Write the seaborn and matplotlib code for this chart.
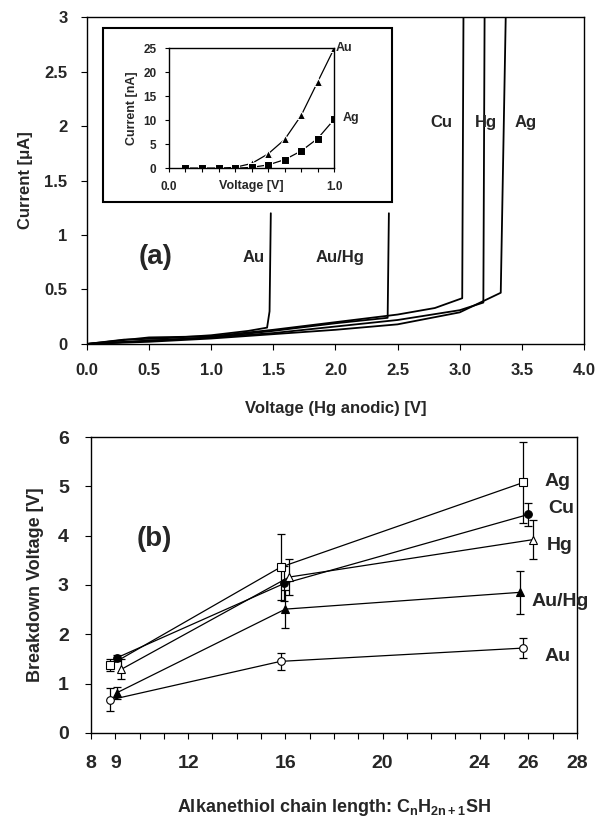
import matplotlib
matplotlib.use("Agg")
import matplotlib.pyplot as plt
import seaborn as sns
import pandas as pd
from matplotlib.patches import Rectangle

# ---- panel (a): I-V sweeps up to breakdown ----
au_v = [0, 0.3, 0.6, 1.0, 1.3, 1.45, 1.47, 1.48]
au_i = [0, 0.04, 0.05, 0.08, 0.12, 0.15, 0.3, 1.2]
auhg_v = [0, 0.5, 1.0, 1.5, 2.0, 2.42, 2.43]
auhg_i = [0, 0.03, 0.06, 0.12, 0.19, 0.24, 1.2]
cu_v = [0, 0.5, 1.0, 1.5, 2.0, 2.5, 2.8, 3.02, 3.03]
cu_i = [0, 0.06, 0.07, 0.13, 0.2, 0.27, 0.33, 0.42, 3.0]
hg_v = [0, 0.5, 1.0, 1.5, 2.0, 2.5, 3.0, 3.19, 3.2]
hg_i = [0, 0.03, 0.06, 0.1, 0.16, 0.22, 0.31, 0.38, 3.0]
ag_v = [0, 0.5, 1.0, 1.5, 2.0, 2.5, 3.0, 3.33, 3.37]
ag_i = [0, 0.02, 0.05, 0.09, 0.13, 0.18, 0.29, 0.47, 3.0]

# inset: low-bias current (nA)
inset_v = [0.1, 0.2, 0.3, 0.4, 0.5, 0.6, 0.7, 0.8, 0.9, 1.0]
inset_au = [0, 0, 0, 0.2, 1.0, 3.0, 6.0, 11.0, 18.0, 25.0]
inset_ag = [0, 0, 0, 0, 0.2, 0.7, 1.8, 3.6, 6.2, 10.2]

# ---- panel (b): breakdown voltage vs chain length ----
metals = ["Ag", "Cu", "Hg", "Au/Hg", "Au"]
chain_x = {
    "Ag": [8.8, 15.8, 25.8],
    "Cu": [9.05, 15.95, 26.0],
    "Hg": [9.25, 16.15, 26.2],
    "Au/Hg": [9.05, 16.0, 25.65],
    "Au": [8.8, 15.8, 25.8],
}
vbd = {
    "Ag": [1.38, 3.36, 5.08],
    "Cu": [1.52, 3.03, 4.43],
    "Hg": [1.29, 3.16, 3.92],
    "Au/Hg": [0.81, 2.51, 2.85],
    "Au": [0.67, 1.45, 1.72],
}
vbd_err = {
    "Ag": [0.12, 0.67, 0.83],
    "Cu": [0.06, 0.36, 0.24],
    "Hg": [0.2, 0.36, 0.4],
    "Au/Hg": [0.12, 0.38, 0.43],
    "Au": [0.23, 0.17, 0.2],
}
markers = {"Ag": "s", "Cu": "o", "Hg": "^", "Au/Hg": "^", "Au": "o"}
filled = {"Ag": False, "Cu": True, "Hg": False, "Au/Hg": True, "Au": False}
label_pos = {"Ag": (27.2, 5.1), "Cu": (27.35, 4.55), "Hg": (27.3, 3.8),
             "Au/Hg": (27.3, 2.66), "Au": (27.2, 1.55)}

sns.set_style("ticks")
plt.rcParams["font.family"] = ["Liberation Sans", "DejaVu Sans"]
plt.rcParams["font.weight"] = "bold"
plt.rcParams["axes.labelweight"] = "bold"
plt.rcParams["mathtext.fontset"] = "custom"
plt.rcParams["mathtext.bf"] = "Liberation Sans:bold"
plt.rcParams["mathtext.rm"] = "Liberation Sans:bold"
plt.rcParams["mathtext.default"] = "bf"

fig = plt.figure(figsize=(5.99, 8.17), dpi=100)
ax1 = fig.add_axes([0.145, 0.579, 0.830, 0.400])
ax2 = fig.add_axes([0.152, 0.103, 0.811, 0.362])

for ax in (ax1, ax2):
    for sp in ax.spines.values():
        sp.set_visible(True)
        sp.set_color("black")
        sp.set_linewidth(1.0)

# panel (a)
curves = [(au_v, au_i), (auhg_v, auhg_i), (cu_v, cu_i), (hg_v, hg_i), (ag_v, ag_i)]
for v, i in curves:
    df = pd.DataFrame({"V": v, "I": i})
    sns.lineplot(data=df, x="V", y="I", ax=ax1, color="black", lw=1.3,
                 sort=False, estimator=None)
ax1.set_xlim(0, 4)
ax1.set_ylim(0, 3)
ax1.set_xticks([0, 0.5, 1, 1.5, 2, 2.5, 3, 3.5, 4])
ax1.set_xticklabels([f"{t:.1f}" for t in ax1.get_xticks()])
ax1.set_yticks([0, 0.5, 1, 1.5, 2, 2.5, 3])
ax1.set_yticklabels(["0", "0.5", "1", "1.5", "2", "2.5", "3"])
ax1.tick_params(labelsize=12, length=4, color="black", pad=10)
ax1.set_xlabel("Voltage (Hg anodic) [V]", fontsize=12, labelpad=16)
ax1.set_ylabel("Current [μA]", fontsize=12, labelpad=8)
ax1.text(0.55, 0.8, "(a)", fontsize=20, ha="center", va="center")
ax1.text(1.34, 0.79, "Au", fontsize=12, ha="center", va="center")
ax1.text(2.04, 0.79, "Au/Hg", fontsize=12, ha="center", va="center")
ax1.text(2.85, 2.03, "Cu", fontsize=12, ha="center", va="center")
ax1.text(3.21, 2.03, "Hg", fontsize=12, ha="center", va="center")
ax1.text(3.53, 2.03, "Ag", fontsize=12, ha="center", va="center")

# inset frame + inset axes
fig.patches.append(Rectangle((0.172, 0.753), 0.482, 0.213, transform=fig.transFigure,
                             facecolor="white", edgecolor="black", lw=1.5, zorder=5))
axi = fig.add_axes([0.282, 0.794, 0.276, 0.147], zorder=6)
for sp in axi.spines.values():
    sp.set_visible(True)
    sp.set_color("black")
    sp.set_linewidth(1.0)
df_in = pd.DataFrame({"V": inset_v * 2, "I": inset_au + inset_ag,
                      "m": ["Au"] * len(inset_v) + ["Ag"] * len(inset_v)})
sns.lineplot(data=df_in, x="V", y="I", style="m", markers={"Au": "^", "Ag": "s"},
             dashes=False, color="black", lw=0.9, markersize=5.5, ax=axi,
             legend=False, estimator=None)
axi.set_xlim(0, 1.0)
axi.set_ylim(0, 25)
axi.set_xticks([0, 0.1, 0.2, 0.3, 0.4, 0.5, 0.6, 0.7, 0.8, 0.9, 1.0])
axi.set_xticklabels(["0.0"] + [""] * 9 + ["1.0"])
axi.set_yticks([0, 5, 10, 15, 20, 25])
axi.tick_params(labelsize=8.5, length=3, color="black", pad=6)
axi.set_xlabel("Voltage [V]", fontsize=9, labelpad=-9)
axi.set_ylabel("Current [nA]", fontsize=9, labelpad=4)
axi.text(1.01, 25, "Au", fontsize=9, ha="left", va="center", clip_on=False)
axi.text(1.05, 10.5, "Ag", fontsize=9, ha="left", va="center", clip_on=False)

# panel (b)
for m in metals:
    df = pd.DataFrame({"n": chain_x[m], "V": vbd[m]})
    sns.lineplot(data=df, x="n", y="V", ax=ax2, color="black", lw=0.9,
                 marker=markers[m], markersize=5.5,
                 markerfacecolor="black" if filled[m] else "white",
                 markeredgecolor="black", markeredgewidth=0.8,
                 sort=False, estimator=None, zorder=3)
    ax2.errorbar(chain_x[m], vbd[m], yerr=vbd_err[m], fmt="none",
                 ecolor="black", elinewidth=0.9, capsize=3, capthick=0.9, zorder=2)
    lx, ly = label_pos[m]
    ax2.text(lx, ly, m, fontsize=14, ha="center", va="center")

ax2.set_xlim(8, 28)
ax2.set_ylim(0, 6)
ax2.set_xticks(list(range(8, 29)))
major = [8, 9, 12, 16, 20, 24, 26, 28]
ax2.set_xticklabels([str(t) if t in major else "" for t in range(8, 29)])
ax2.set_yticks([0, 1, 2, 3, 4, 5, 6])
ax2.tick_params(labelsize=14, length=4, color="black", pad=12)
ax2.set_xlabel("Alkanethiol chain length: C$_{n}$H$_{2n+1}$SH", fontsize=13, labelpad=18)
ax2.set_ylabel("Breakdown Voltage [V]", fontsize=13, labelpad=10)
ax2.text(10.6, 3.94, "(b)", fontsize=20, ha="center", va="center")

fig.savefig("out.png", dpi=100)
